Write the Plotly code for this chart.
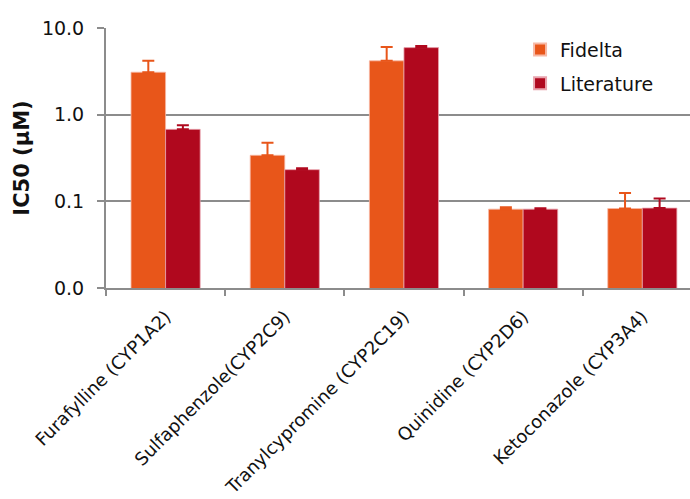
import plotly.graph_objects as go

# Inhibitor / CYP isoform pairs
compounds = [
    "Furafylline (CYP1A2)",
    "Sulfaphenzole(CYP2C9)",
    "Tranylcypromine (CYP2C19)",
    "Quinidine (CYP2D6)",
    "Ketoconazole (CYP3A4)",
]

# IC50 values (µM) and upper error magnitudes
fidelta_ic50 = [3.09, 0.34, 4.18, 0.0813, 0.0826]
fidelta_err = [1.10, 0.135, 1.87, 0.004, 0.042]
literature_ic50 = [0.677, 0.232, 5.94, 0.0813, 0.0836]
literature_err = [0.076, 0.009, 0.26, 0.002, 0.024]

# Log axis ticks and their printed labels
y_tickvals = [0.01, 0.1, 1, 10]
y_ticktext = ["0.0", "0.1", "1.0", "10.0"]

orange = "#E8561A"
crimson = "#B0081E"
axis_grey = "#8C8C8C"
text_col = "#111111"
font_family = "DejaVu Sans, Verdana, sans-serif"

fig = go.Figure()
fig.add_trace(go.Bar(
    name="Fidelta", x=compounds, y=fidelta_ic50, legendgroup="f",
    marker=dict(color=orange, line=dict(color="#F7B9A6", width=0.8)),
    error_y=dict(type="data", symmetric=False, array=fidelta_err,
                 arrayminus=[0] * len(fidelta_err),
                 color=orange, thickness=2, width=6),
))
fig.add_trace(go.Bar(
    name="Literature", x=compounds, y=literature_ic50, legendgroup="l",
    marker=dict(color=crimson, line=dict(color="#E8A3AD", width=0.8)),
    error_y=dict(type="data", symmetric=False, array=literature_err,
                 arrayminus=[0] * len(literature_err),
                 color=crimson, thickness=2, width=6),
))

fig.update_layout(
    width=690, height=499,
    margin=dict(l=106, r=0, t=28, b=211),
    paper_bgcolor="white", plot_bgcolor="white",
    barmode="group", bargap=0.42, bargroupgap=0,
    font=dict(family=font_family, size=19, color=text_col),
    showlegend=True,
    legend=dict(
        x=0.709, y=0.99, xanchor="left", yanchor="top",
        bgcolor="rgba(0,0,0,0)", font=dict(size=19, color=text_col),
        itemsizing="constant", tracegroupgap=6, itemwidth=30,
    ),
)

fig.update_xaxes(
    type="category", range=[-0.5, 4.4], automargin=False,
    showline=True, linecolor=axis_grey, linewidth=2,
    ticks="outside", tickson="boundaries", ticklen=6,
    tickcolor=axis_grey, tickwidth=2,
    tickangle=-45, tickfont=dict(size=18, color=text_col),
    ticklabelstandoff=9,
    showgrid=False,
)
fig.update_yaxes(
    type="log", range=[-2, 1], automargin=False,
    tickvals=y_tickvals, ticktext=y_ticktext,
    showline=True, linecolor=axis_grey, linewidth=2,
    ticks="outside", ticklen=7, tickcolor=axis_grey, tickwidth=2,
    ticklabelstandoff=9,
    showgrid=True, gridcolor=axis_grey, gridwidth=2,
    tickfont=dict(size=19, color=text_col),
    title=dict(text="<b>IC50 (µM)</b>", font=dict(size=21, color=text_col),
               standoff=7),
    zeroline=False,
)

fig.write_html("out.html")
